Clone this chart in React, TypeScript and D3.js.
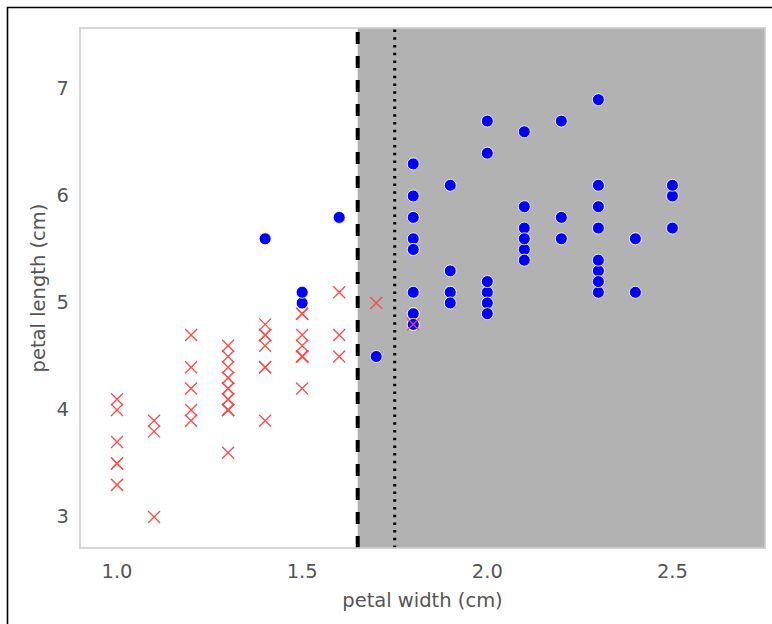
import React from "react";
import * as d3 from "d3";

// Iris versicolor (red x) – petal width, petal length
const versicolorWidth = [1.4,1.5,1.5,1.3,1.5,1.3,1.6,1.0,1.3,1.4,1.0,1.5,1.0,1.4,1.3,1.4,1.5,1.0,1.5,1.1,1.8,1.3,1.5,1.2,1.3,1.4,1.4,1.7,1.5,1.0,1.1,1.0,1.2,1.6,1.5,1.6,1.5,1.3,1.3,1.3,1.2,1.4,1.2,1.0,1.3,1.2,1.3,1.3,1.1,1.3];
const versicolorLength = [4.7,4.5,4.9,4.0,4.6,4.5,4.7,3.3,4.6,3.9,3.5,4.2,4.0,4.7,3.6,4.4,4.5,4.1,4.5,3.9,4.8,4.0,4.9,4.7,4.3,4.4,4.8,5.0,4.5,3.5,3.8,3.7,3.9,5.1,4.5,4.5,4.7,4.4,4.1,4.0,4.4,4.6,4.0,3.3,4.2,4.2,4.2,4.3,3.0,4.1];

// Iris virginica (blue dots)
const virginicaWidth = [2.5,1.9,2.1,1.8,2.2,2.1,1.7,1.8,1.8,2.5,2.0,1.9,2.1,2.0,2.4,2.3,1.8,2.2,2.3,1.5,2.3,2.0,2.0,1.8,2.1,1.8,1.8,1.8,2.1,1.6,1.9,2.0,2.2,1.5,1.4,2.3,2.4,1.8,1.8,2.1,2.4,2.3,1.9,2.3,2.5,2.3,1.9,2.0,2.3,1.8];
const virginicaLength = [6.0,5.1,5.9,5.6,5.8,6.6,4.5,6.3,5.8,6.1,5.1,5.3,5.5,5.0,5.1,5.3,5.5,6.7,6.9,5.0,5.7,4.9,6.7,4.9,5.7,6.0,4.8,4.9,5.6,5.8,6.1,6.4,5.6,5.1,5.6,6.1,5.6,5.5,4.8,5.4,5.6,5.1,5.1,5.9,5.7,5.2,5.0,5.2,5.4,5.1];

const xTicks = [1.0, 1.5, 2.0, 2.5];
const yTicks = [3, 4, 5, 6, 7];
const xDomain = [0.9, 2.75];
const yDomain = [2.71, 7.57];
const dashedSplit = 1.65;
const dottedSplit = 1.75;

export default function App() {
  const W = 772, H = 624;
  const left = 80, right = 765, top = 28, bottom = 548;
  const x = d3.scaleLinear().domain(xDomain).range([left, right]);
  const y = d3.scaleLinear().domain(yDomain).range([bottom, top]);
  const font = "DejaVu Sans, sans-serif";
  const textColor = "#555555";
  const xs = 6;

  return (
    <svg width={W} height={H} style={{ position: "absolute", left: 0, top: 0, display: "block" }}>
      <rect x={0} y={0} width={W} height={H} fill="#ffffff" />
      <path d={`M7.5,${H} V7.5 H${W}`} fill="none" stroke="#000" strokeWidth={1.6} />
      <defs>
        <clipPath id="plotclip">
          <rect x={left} y={top} width={right - left} height={bottom - top} />
        </clipPath>
      </defs>
      <rect x={left} y={top} width={right - left} height={bottom - top} fill="#ffffff" />
      <rect x={x(dashedSplit)} y={top} width={right - x(dashedSplit)} height={bottom - top} fill="#b2b2b2" />
      <g clipPath="url(#plotclip)">
        <line x1={x(dashedSplit)} x2={x(dashedSplit)} y1={bottom} y2={top} stroke="#000" strokeWidth={4} strokeDasharray="12 12" />
        <line x1={x(dottedSplit)} x2={x(dottedSplit)} y1={bottom} y2={top} stroke="#000" strokeWidth={3} strokeDasharray="2.5 5.2" />
        {virginicaWidth.map((w, i) => (
          <circle key={"b" + i} cx={x(w)} cy={y(virginicaLength[i])} r={6} fill="#0000ff" stroke="#ffffff" strokeOpacity={0.85} strokeWidth={1} />
        ))}
        {versicolorWidth.map((w, i) => {
          const cx = x(w), cy = y(versicolorLength[i]);
          return (
            <path key={"r" + i} d={`M${cx - xs},${cy - xs}L${cx + xs},${cy + xs}M${cx - xs},${cy + xs}L${cx + xs},${cy - xs}`} stroke="#ff4a4a" strokeWidth={1.3} fill="none" />
          );
        })}
      </g>
      <rect x={left} y={top} width={right - left} height={bottom - top} fill="none" stroke="#cccccc" strokeWidth={1.6} />
      {xTicks.map((t) => (
        <text key={"xt" + t} x={x(t)} y={571} textAnchor="middle" dominantBaseline="central" fontFamily={font} fontSize={19.5} fill={textColor}>
          {t.toFixed(1)}
        </text>
      ))}
      {yTicks.map((t) => (
        <text key={"yt" + t} x={69} y={y(t)} textAnchor="end" dominantBaseline="central" fontFamily={font} fontSize={19.5} fill={textColor}>
          {t}
        </text>
      ))}
      <text x={(left + right) / 2} y={600} textAnchor="middle" dominantBaseline="central" fontFamily={font} fontSize={19.5} fill={textColor}>
        petal width (cm)
      </text>
      <text transform={`translate(38,${(top + bottom) / 2}) rotate(-90)`} textAnchor="middle" dominantBaseline="central" fontFamily={font} fontSize={19.5} fill={textColor}>
        petal length (cm)
      </text>
    </svg>
  );
}
